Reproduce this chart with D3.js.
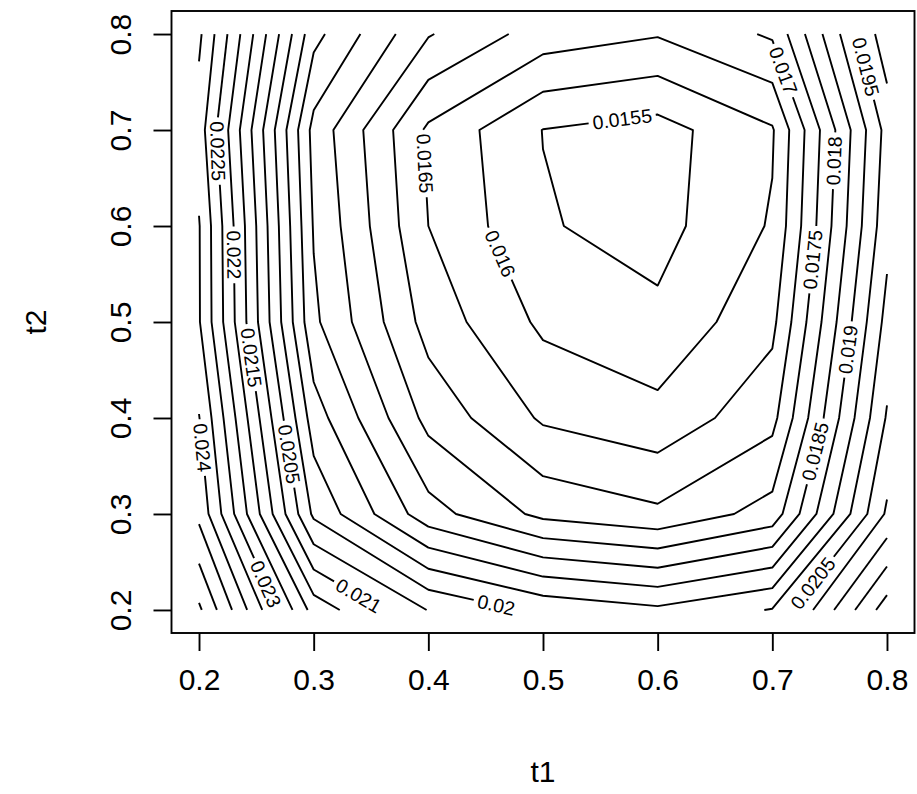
<!DOCTYPE html>
<html>
<head>
<meta charset="utf-8">
<script src="https://cdn.jsdelivr.net/npm/d3@7"></script>
<style>
  body { margin: 0; background: #fff; }
  svg { display: block; font-family: "Liberation Sans", Arial, Helvetica, sans-serif; }
</style>
</head>
<body>
<svg id="fig" width="917" height="794"></svg>
<script>
// grid the surface was evaluated on
const t1 = [0.2, 0.3, 0.4, 0.5, 0.6, 0.7, 0.8];
const t2 = [0.2, 0.3, 0.4, 0.5, 0.6, 0.7, 0.8];

// z for each t1 column, listed from t2 = 0.2 up to t2 = 0.8
const zT1_02 = [0.02559, 0.02437, 0.02402, 0.02354, 0.02353, 0.02325, 0.02360];
const zT1_03 = [0.02180, 0.01990, 0.01924, 0.01860, 0.01846, 0.01833, 0.01916];
const zT1_04 = [0.02048, 0.01820, 0.01734, 0.01680, 0.01650, 0.01641, 0.01754];
const zT1_05 = [0.01987, 0.01737, 0.01643, 0.01590, 0.01554, 0.01549, 0.01677];
const zT1_06 = [0.01960, 0.01710, 0.01616, 0.01561, 0.01532, 0.01530, 0.01654];
const zT1_07 = [0.02003, 0.01770, 0.01684, 0.01637, 0.01605, 0.01595, 0.01707];
const zT1_08 = [0.02276, 0.02108, 0.02055, 0.02017, 0.01983, 0.01968, 0.02034];

const levels = [0.0155, 0.016, 0.0165, 0.017, 0.0175, 0.018, 0.0185, 0.019, 0.0195,
                0.02, 0.0205, 0.021, 0.0215, 0.022, 0.0225, 0.023, 0.0235, 0.024,
                0.0245, 0.025, 0.0255];

// where R put the labels: [level, t1, t2]
const labelAt = [
  [0.0155, 0.569, 0.712], [0.016, 0.462, 0.571], [0.0165, 0.394, 0.665],
  [0.017, 0.712, 0.763], [0.0175, 0.735, 0.565], [0.018, 0.754, 0.668],
  [0.0185, 0.738, 0.365], [0.019, 0.768, 0.471], [0.0195, 0.779, 0.800],
  [0.02, 0.480, 0.200], [0.0205, 0.277, 0.362], [0.0205, 0.750, 0.200],
  [0.021, 0.380, 0.200], [0.0215, 0.246, 0.463], [0.022, 0.230, 0.570],
  [0.0225, 0.215, 0.678], [0.023, 0.275, 0.200], [0.024, 0.201, 0.369]
];

const ticks = [0.2, 0.3, 0.4, 0.5, 0.6, 0.7, 0.8];

const W = 917, H = 794;
const margin = {top: 11, right: 2.5, bottom: 161, left: 171.5};
const FONT = '"Liberation Sans", Arial, Helvetica, sans-serif';
const LW = 1.9;

// R style 4% padding of the axis ranges
const pad = v => { const [a, b] = d3.extent(v), d = (b - a) * 0.04; return [a - d, b + d]; };
const x = d3.scaleLinear().domain(pad(t1)).range([margin.left, W - margin.right]);
const y = d3.scaleLinear().domain(pad(t2)).range([H - margin.bottom, margin.top]);

const svg = d3.select("#fig");

// values in d3.contours order: row by row along t2
const zCols = [zT1_02, zT1_03, zT1_04, zT1_05, zT1_06, zT1_07, zT1_08];
const nx = t1.length, ny = t2.length;
const values = [];
t2.forEach((_, j) => t1.forEach((_, i) => values.push(zCols[i][j])));

// grid index space of d3.contours -> pixels
const gx = d3.scaleLinear().domain([0.5, nx - 0.5]).range([x(t1[0]), x(t1[nx - 1])]);
const gy = d3.scaleLinear().domain([0.5, ny - 0.5]).range([y(t2[0]), y(t2[ny - 1])]);

const contours = d3.contours().size([nx, ny]).thresholds(levels)(values);

// d3 closes rings around the grid edge; keep only the real isolines
const inside = p => p[0] > 1e-9 && p[0] < nx - 1e-9 && p[1] > 1e-9 && p[1] < ny - 1e-9;
function openLines(ring) {
  let pts = ring.slice();
  const f = pts[0], l = pts[pts.length - 1];
  if (f[0] === l[0] && f[1] === l[1]) pts.pop();
  const k = pts.findIndex(p => !inside(p));
  if (k < 0) return [{pts: pts.concat([pts[0]]), closed: true}];
  const rot = pts.slice(k).concat(pts.slice(0, k));
  const out = [];
  let cur = [];
  rot.forEach(p => {
    if (inside(p)) cur.push(p);
    else { if (cur.length > 1) out.push({pts: cur, closed: false}); cur = []; }
  });
  if (cur.length > 1) out.push({pts: cur, closed: false});
  return out;
}

const lines = [];
contours.forEach(c => {
  c.coordinates.forEach(poly => poly.forEach(ring => {
    openLines(ring).forEach(l => lines.push({
      level: c.value, closed: l.closed, label: null,
      pts: l.pts.map(p => [gx(p[0]), gy(p[1])])
    }));
  }));
});

// path helpers
function lengths(pts) {
  const cum = [0];
  for (let i = 1; i < pts.length; i++)
    cum.push(cum[i - 1] + Math.hypot(pts[i][0] - pts[i - 1][0], pts[i][1] - pts[i - 1][1]));
  return cum;
}
function at(pts, cum, s) {
  let i = d3.bisectRight(cum, s);
  i = Math.max(1, Math.min(pts.length - 1, i));
  const seg = cum[i] - cum[i - 1] || 1, t = (s - cum[i - 1]) / seg;
  return [pts[i - 1][0] + t * (pts[i][0] - pts[i - 1][0]), pts[i - 1][1] + t * (pts[i][1] - pts[i - 1][1])];
}
function slice(pts, cum, a, b) {
  if (b - a <= 0) return [];
  const out = [at(pts, cum, a)];
  for (let i = 0; i < pts.length; i++) if (cum[i] > a && cum[i] < b) out.push(pts[i]);
  out.push(at(pts, cum, b));
  return out;
}
function nearest(pts, cum, q) {
  let best = {d: Infinity, s: 0};
  for (let i = 1; i < pts.length; i++) {
    const [ax, ay] = pts[i - 1], dx = pts[i][0] - ax, dy = pts[i][1] - ay;
    const L2 = dx * dx + dy * dy || 1;
    const t = Math.max(0, Math.min(1, ((q[0] - ax) * dx + (q[1] - ay) * dy) / L2));
    const d = Math.hypot(ax + t * dx - q[0], ay + t * dy - q[1]);
    if (d < best.d) best = {d, s: cum[i - 1] + t * Math.sqrt(L2)};
  }
  return best;
}

const labelSize = 19.5;
const fmt = v => String(+v.toFixed(4));
function textWidth(str) {
  const t = svg.append("text").attr("font-size", labelSize).attr("font-family", FONT).text(str);
  const w = t.node().getComputedTextLength();
  t.remove();
  return w;
}

// attach each label to the nearest line of its level
labelAt.forEach(([lev, a, b]) => {
  const q = [x(a), y(b)];
  let best = null;
  lines.filter(l => Math.abs(l.level - lev) < 1e-9).forEach(l => {
    const r = nearest(l.pts, lengths(l.pts), q);
    if (!best || r.d < best.r.d) best = {l, r};
  });
  if (best) best.l.label = {text: fmt(lev), s: best.r.s};
});

const line = d3.line();
const gLines = svg.append("g").attr("fill", "none").attr("stroke", "#000")
  .attr("stroke-width", LW).attr("stroke-linejoin", "round");
const gText = svg.append("g").attr("font-family", FONT).attr("font-size", labelSize)
  .attr("text-anchor", "middle").attr("fill", "#000");

lines.forEach(l => {
  if (!l.label) {
    gLines.append("path").attr("d", line(l.pts) + (l.closed ? "Z" : ""));
    return;
  }
  const w = textWidth(l.label.text), h = w / 2 + 4;
  let pts = l.pts, cum = lengths(pts);
  const L = cum[cum.length - 1];
  let s = l.label.s, pieces;
  if (l.closed) {
    pts = pts.concat(pts.slice(1));
    cum = lengths(pts);
    if (s < h) s += L;
    pieces = [slice(pts, cum, s + h, s + L - h)];
  } else {
    if (L > 2 * h) s = Math.max(h, Math.min(L - h, s));
    pieces = [slice(pts, cum, 0, s - h), slice(pts, cum, s + h, L)];
  }
  pieces.filter(p => p.length > 1).forEach(p => gLines.append("path").attr("d", line(p)));
  const c = at(pts, cum, s);
  const p0 = at(pts, cum, Math.max(0, s - h)), p1 = at(pts, cum, Math.min(cum[cum.length - 1], s + h));
  let ang = Math.atan2(p1[1] - p0[1], p1[0] - p0[0]) * 180 / Math.PI;
  if (ang > 90) ang -= 180;
  if (ang <= -90) ang += 180;
  gText.append("text")
    .attr("transform", `translate(${c[0]},${c[1]}) rotate(${ang})`)
    .attr("dy", "0.35em")
    .text(l.label.text);
});

// frame
const [x0, x1] = x.range(), [y0, y1] = y.range();
svg.append("rect")
  .attr("x", x0).attr("y", y1).attr("width", x1 - x0).attr("height", y0 - y1)
  .attr("fill", "none").attr("stroke", "#000").attr("stroke-width", LW);

// axes
const tf = d3.format(".1f");
const gx1 = svg.append("g").attr("transform", `translate(0,${y0})`)
  .call(d3.axisBottom(x).tickValues(ticks).tickFormat(tf).tickSize(18).tickSizeOuter(0).tickPadding(18))
  .attr("font-size", 30).attr("font-family", FONT);
gx1.select(".domain").remove();
gx1.selectAll("line").attr("stroke-width", LW);

const gy1 = svg.append("g").attr("transform", `translate(${x0},0)`)
  .call(d3.axisLeft(y).tickValues(ticks).tickFormat(tf).tickSize(18).tickSizeOuter(0))
  .attr("font-size", 30).attr("font-family", FONT);
gy1.select(".domain").remove();
gy1.selectAll("line").attr("stroke-width", LW);
gy1.selectAll(".tick text")
  .attr("x", null).attr("dy", null).attr("text-anchor", "middle")
  .attr("transform", "translate(-41,0) rotate(-90)");

// axis titles
svg.append("text").attr("x", (x0 + x1) / 2).attr("y", 782)
  .attr("text-anchor", "middle").attr("font-size", 30).attr("font-family", FONT).text("t1");
svg.append("text").attr("transform", `translate(46,${(y0 + y1) / 2}) rotate(-90)`)
  .attr("text-anchor", "middle").attr("font-size", 30).attr("font-family", FONT).text("t2");
</script>
</body>
</html>
